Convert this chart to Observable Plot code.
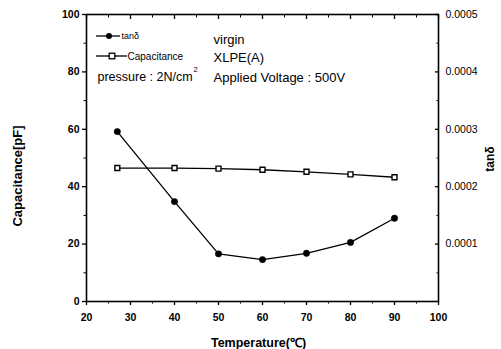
<!DOCTYPE html>
<html><head><meta charset="utf-8">
<script src="https://cdn.jsdelivr.net/npm/d3@7"></script>
<script src="https://cdn.jsdelivr.net/npm/@observablehq/plot@0.6"></script>
<style>
body{margin:0;background:#fff;}
#chart{position:relative;width:501px;height:349px;font-family:"Liberation Sans",Arial,sans-serif;color:#000;}
#chart svg.overlay{position:absolute;left:0;top:0;pointer-events:none;}
</style></head><body><div id="chart"></div>
<script>
// data
const temperature = [27, 40, 50, 60, 70, 80, 90];
const capacitance = [46.5, 46.5, 46.3, 45.9, 45.2, 44.3, 43.3];
const tanDelta = [0.000296, 0.000174, 0.000083, 0.000073, 0.000084, 0.000103, 0.000145];

const xTicks = [20, 30, 40, 50, 60, 70, 80, 90, 100];
const xMinorTicks = [25, 35, 45, 55, 65, 75, 85, 95];
const leftTicks = [0, 20, 40, 60, 80, 100];
const leftMinorTicks = [10, 30, 50, 70, 90];
const rightTicks = [0.0001, 0.0002, 0.0003, 0.0004, 0.0005];
const rightTickLabels = ["0.0001", "0.0002", "0.0003", "0.0004", "0.0005"];
const rightMinorTicks = [0.00005, 0.00015, 0.00025, 0.00035, 0.00045];

const xLabel = "Temperature(\u2103)";
const leftLabel = "Capacitance[pF]";
const rightLabel = "tan\u03b4";
const legendNames = ["tan\u03b4", "Capacitance"];
const noteLeft = "pressure : 2N/cm";
const noteLeftSup = "2";
const notesRight = ["virgin", "XLPE(A)", "Applied Voltage : 500V"];

const leftMax = 100, rightMax = 0.0005;
const k = leftMax / rightMax; // maps tanδ onto the left (capacitance) scale
const rows = temperature.map((t, i) => ({t, cap: capacitance[i], tan: tanDelta[i] * k}));

const font = "'Liberation Sans', Arial, sans-serif";
const blank = () => "";
const noteOffsets = [25, 43, 63];

const chart = Plot.plot({
  width: 501, height: 349,
  marginLeft: 86, marginRight: 63, marginTop: 14, marginBottom: 48,
  x: {domain: [20, 100]},
  y: {domain: [0, leftMax]},
  style: {fontFamily: font, fontSize: "10px", color: "#000", background: "#fff"},
  marks: [
    // bottom axis (outward)
    Plot.axisX({anchor: "bottom", ticks: xTicks, tickSize: 4, tickPadding: 8, fontWeight: "bold", fontSize: 10.5, label: null, strokeWidth: 1.3}),
    Plot.axisX({anchor: "bottom", ticks: xMinorTicks, tickSize: 2.5, tickFormat: blank, label: null}),
    // top axis (inward)
    Plot.axisX({anchor: "top", ticks: xTicks, tickSize: 4, dy: 4, tickFormat: blank, label: null, strokeWidth: 1.3}),
    Plot.axisX({anchor: "top", ticks: xMinorTicks, tickSize: 2.5, dy: 2.5, tickFormat: blank, label: null}),
    // left axis (outward)
    Plot.axisY({anchor: "left", ticks: leftTicks, tickSize: 4, tickPadding: 3, fontWeight: "bold", fontSize: 10.5, label: null, strokeWidth: 1.3}),
    Plot.axisY({anchor: "left", ticks: leftMinorTicks, tickSize: 2.5, tickFormat: blank, label: null}),
    // right axis (inward)
    Plot.axisY({anchor: "right", ticks: rightTicks.map(v => v * k), tickSize: 4, dx: -4, tickFormat: blank, label: null, strokeWidth: 1.3}),
    Plot.axisY({anchor: "right", ticks: rightMinorTicks.map(v => v * k), tickSize: 2.5, dx: -2.5, tickFormat: blank, label: null}),
    Plot.axisY({anchor: "right", ticks: rightTicks.map(v => v * k), tickSize: 0, tickPadding: 7, fontSize: 10.5, tickFormat: (d, i) => rightTickLabels[i], label: null}),
    Plot.frame({stroke: "#000", strokeWidth: 1.6}),
    // series
    Plot.line(rows, {x: "t", y: "cap", stroke: "#000", strokeWidth: 1.3}),
    Plot.dot(rows, {x: "t", y: "cap", symbol: "square", r: 2.8, fill: "#fff", stroke: "#000", strokeWidth: 1.4}),
    Plot.line(rows, {x: "t", y: "tan", stroke: "#000", strokeWidth: 1.3}),
    Plot.dot(rows, {x: "t", y: "tan", r: 3.2, fill: "#000", stroke: "#000", strokeWidth: 0.5}),
    // axis titles
    Plot.text([leftLabel], {text: d => d, frameAnchor: "left", dx: -69, dy: 18, rotate: -90, textAnchor: "middle", lineAnchor: "middle", fontWeight: "bold", fontSize: 13}),
    Plot.text([rightLabel], {text: d => d, frameAnchor: "right", dx: 52, dy: 1, rotate: -90, textAnchor: "middle", lineAnchor: "middle", fontWeight: "bold", fontSize: 12}),
    Plot.text([xLabel], {text: d => d, frameAnchor: "bottom", dx: -4, dy: 41, textAnchor: "middle", lineAnchor: "middle", fontWeight: "bold", fontSize: 12.5}),
    // notes on the right of the legend
    ...notesRight.map((s, i) => Plot.text([s], {text: d => d, frameAnchor: "top-left", dx: 127, dy: noteOffsets[i], textAnchor: "start", lineAnchor: "middle", fontSize: 13})),
    // pressure note
    Plot.text([noteLeft], {text: d => d, frameAnchor: "top-left", dx: 11, dy: 62, textAnchor: "start", lineAnchor: "middle", fontSize: 12.5}),
    Plot.text([noteLeftSup], {text: d => d, frameAnchor: "top-left", dx: 107, dy: 55, textAnchor: "start", lineAnchor: "middle", fontSize: 7.5}),
    // legend labels
    Plot.text([legendNames[0]], {text: d => d, frameAnchor: "top-left", dx: 35, dy: 22, textAnchor: "start", lineAnchor: "middle", fontSize: 9}),
    Plot.text([legendNames[1]], {text: d => d, frameAnchor: "top-left", dx: 41, dy: 42, textAnchor: "start", lineAnchor: "middle", fontSize: 10})
  ]
});
const root = document.getElementById("chart");
root.appendChild(chart);

// legend swatches (overlay)
const ov = d3.select(root).append("svg").attr("class", "overlay").attr("width", 501).attr("height", 349);
const sw = [
  {x1: 96, x2: 120, y: 36, cx: 109, kind: "circle"},
  {x1: 96, x2: 127, y: 56, cx: 112, kind: "square"}
];
sw.forEach(s => {
  ov.append("line").attr("x1", s.x1).attr("x2", s.x2).attr("y1", s.y).attr("y2", s.y).attr("stroke", "#000").attr("stroke-width", 1.3);
  if (s.kind === "circle") ov.append("circle").attr("cx", s.cx).attr("cy", s.y).attr("r", 3).attr("fill", "#000");
  else ov.append("rect").attr("x", s.cx - 2.8).attr("y", s.y - 2.8).attr("width", 5.6).attr("height", 5.6).attr("fill", "#fff").attr("stroke", "#000").attr("stroke-width", 1.3);
});
</script></body></html>
